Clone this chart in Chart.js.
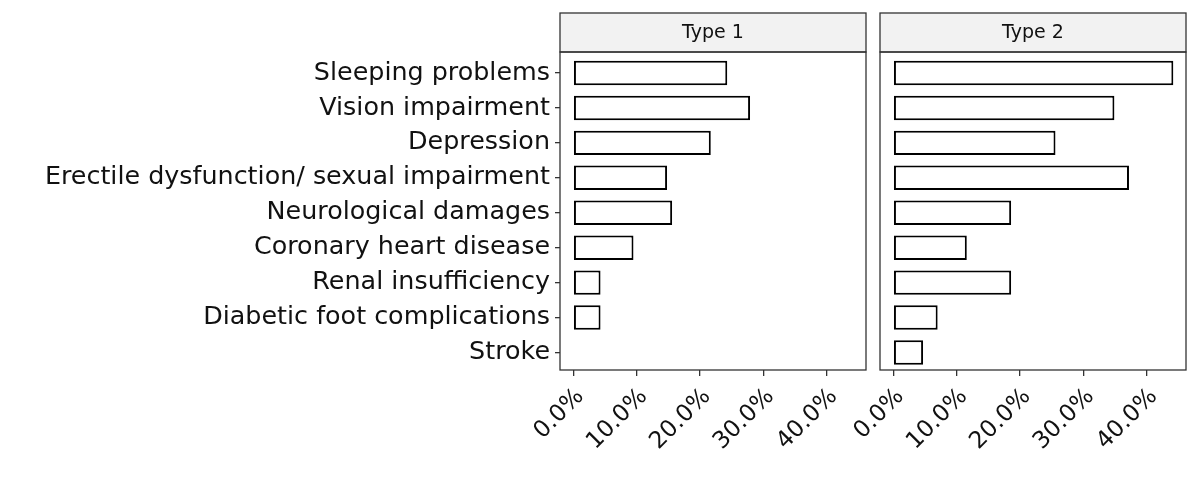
<!DOCTYPE html>
<html>
<head>
<meta charset="utf-8">
<script src="https://cdn.jsdelivr.net/npm/chart.js@4.4.1/dist/chart.umd.min.js"></script>
<style>
  body { margin: 0; background: #fff; }
  #wrap { position: relative; width: 1200px; height: 500px; }
  canvas { position: absolute; top: 0; }
</style>
</head>
<body>
<div id="wrap">
  <canvas id="left" width="870" height="500" style="left:0"></canvas>
  <canvas id="right" width="400" height="500" style="left:800px"></canvas>
</div>
<script>
const categories = [
  "Sleeping problems",
  "Vision impairment",
  "Depression",
  "Erectile dysfunction/ sexual impairment",
  "Neurological damages",
  "Coronary heart disease",
  "Renal insufficiency",
  "Diabetic foot complications",
  "Stroke"
];
const panelTitles = ["Type 1", "Type 2"];
// percent of patients
const type1 = [24.3, 27.9, 21.7, 14.8, 15.6, 9.5, 4.3, 4.3, null];
const type2 = [44.2, 34.9, 25.6, 37.2, 18.6, 11.6, 18.6, 7.0, 4.7];
const xTicks = [0, 10, 20, 30, 40];

const FONT = "'DejaVu Sans', sans-serif";
const INK = "#111111";
const FRAME = "#333333";
const STRIP_TOP = 13, PANEL_TOP = 52;

// strip header + panel border, like a ggplot facet
const facetPlugin = {
  id: 'facet',
  afterDraw(chart, args, opts) {
    const { ctx, chartArea: a } = chart;
    const w = a.right - a.left;
    ctx.save();
    ctx.fillStyle = '#f2f2f2';
    ctx.fillRect(a.left, STRIP_TOP, w, PANEL_TOP - STRIP_TOP);
    ctx.strokeStyle = FRAME;
    ctx.lineWidth = 1.3;
    ctx.strokeRect(a.left, STRIP_TOP, w, PANEL_TOP - STRIP_TOP);
    ctx.strokeRect(a.left, PANEL_TOP, w, a.bottom - PANEL_TOP);
    ctx.fillStyle = INK;
    ctx.font = "19px " + FONT;
    ctx.textAlign = 'center';
    ctx.textBaseline = 'middle';
    ctx.fillText(opts.text, a.left + w / 2, (STRIP_TOP + PANEL_TOP) / 2 + 1);
    ctx.restore();
  }
};

function makePanel(canvasId, values, title, showLabels, yWidth, padRight) {
  return new Chart(document.getElementById(canvasId), {
    type: 'bar',
    data: {
      labels: categories,
      datasets: [{
        data: values,
        backgroundColor: '#ffffff',
        borderColor: '#000000',
        borderWidth: 2,
        borderSkipped: false,
        barPercentage: 0.7,
        categoryPercentage: 1
      }]
    },
    options: {
      indexAxis: 'y',
      responsive: false,
      animation: false,
      layout: { padding: { top: 55.5, right: padRight, left: 0, bottom: 0 } },
      plugins: {
        legend: { display: false },
        tooltip: { enabled: false },
        facet: { text: title }
      },
      scales: {
        x: {
          type: 'linear',
          min: -2.1,
          max: 46.2,
          afterBuildTicks: (s) => { s.ticks = xTicks.map(v => ({ value: v })); },
          afterFit: (s) => { s.height = 130; },
          border: { display: false },
          grid: { drawOnChartArea: false, drawTicks: true, tickLength: 6, color: FRAME, lineWidth: 1.3 },
          ticks: {
            minRotation: 45,
            maxRotation: 45,
            padding: 7,
            labelOffset: 7,
            color: INK,
            font: { family: FONT, size: 23.5 },
            callback: (v) => Number(v).toFixed(1) + '%'
          }
        },
        y: {
          afterFit: (s) => { s.width = yWidth; },
          border: { display: false },
          grid: { offset: false, drawOnChartArea: false, drawTicks: showLabels, tickLength: 5, color: FRAME, lineWidth: 1.3 },
          ticks: {
            display: showLabels,
            padding: 5,
            color: INK,
            font: { family: FONT, size: 25.4 }
          }
        }
      }
    },
    plugins: [facetPlugin]
  });
}

makePanel('left', type1, panelTitles[0], true, 560, 4);
makePanel('right', type2, panelTitles[1], false, 80, 14);
</script>
</body>
</html>
